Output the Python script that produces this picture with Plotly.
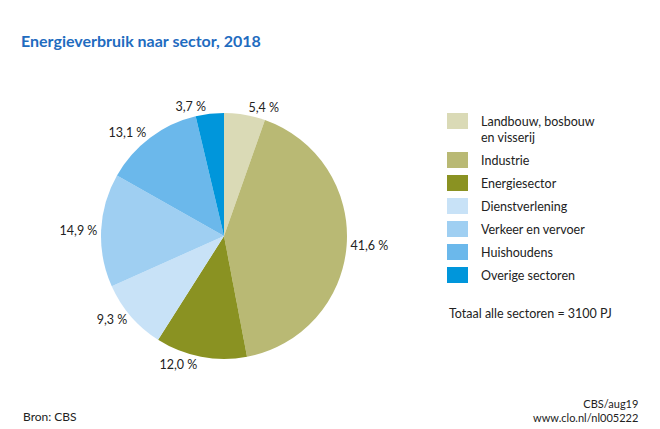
import plotly.graph_objects as go

sectors = ["Landbouw, bosbouw<br>en visserij", "Industrie", "Energiesector",
           "Dienstverlening", "Verkeer en vervoer", "Huishoudens", "Overige sectoren"]
shares = [5.4, 41.6, 12.0, 9.3, 14.9, 13.1, 3.7]
colors = ["#dadab6", "#b9b974", "#8a9222", "#c8e2f7", "#9fcff2", "#6bb8eb", "#0096db"]

title = "Energieverbruik naar sector, 2018"
total_note = "Totaal alle sectoren = 3100 PJ"
source = "Bron: CBS"
credit = "CBS/aug19<br>www.clo.nl/nl005222"

FONT = "Lato"
W, H = 660, 429

fig = go.Figure()
fig.add_trace(go.Pie(
    labels=sectors,
    values=shares,
    sort=False,
    direction="clockwise",
    rotation=0,
    marker=dict(colors=colors, line=dict(width=0)),
    textposition="outside",
    texttemplate="%{value:.1f} %",
    textfont=dict(family=FONT, size=12.5, color="#222222"),
    domain=dict(x=[(224 - 123) / W, (224 + 123) / W], y=[1 - (236 + 123) / H, 1 - (236 - 123) / H]),
    showlegend=False,
    hoverinfo="label+value",
))

# legend drawn by hand so the swatches match the original size
y0 = 113
for i, (name, col) in enumerate(zip(sectors, colors)):
    top = y0 + i * 23 + (16 if i > 0 else 0)
    fig.add_shape(type="rect", xref="paper", yref="paper",
                  x0=447 / W, x1=468 / W, y0=1 - top / H, y1=1 - (top + 16) / H,
                  fillcolor=col, line=dict(width=0))
    fig.add_annotation(x=479 / W, y=1 - (top - 1) / H, xref="paper", yref="paper",
                       text=name, showarrow=False, xanchor="left", yanchor="top", align="left",
                       font=dict(family=FONT, size=12.5, color="#222222"))

fig.add_annotation(x=447 / W, y=1 - 313 / H, xref="paper", yref="paper", text=total_note,
                   showarrow=False, xanchor="left", yanchor="middle",
                   font=dict(family=FONT, size=12.5, color="#222222"))
fig.add_annotation(x=21 / W, y=1 - 416 / H, xref="paper", yref="paper", text=source,
                   showarrow=False, xanchor="left", yanchor="middle",
                   font=dict(family=FONT, size=12, color="#222222"))
fig.add_annotation(x=640 / W, y=1 - 410 / H, xref="paper", yref="paper", text=credit,
                   showarrow=False, xanchor="right", yanchor="middle", align="right",
                   font=dict(family=FONT, size=11, color="#222222"))

fig.update_layout(
    width=W, height=H,
    margin=dict(l=0, r=0, t=0, b=0),
    paper_bgcolor="white",
    separators=", ",
    title=dict(text="<b>" + title + "</b>", x=21 / W, xanchor="left", y=1 - 41 / H, yanchor="middle",
               font=dict(family=FONT, size=16, color="#1f6cbf")),
)

# drop the default page margin so the figure sits at the window's corner
fig.write_html("out.html", config={"displayModeBar": False},
               post_script="document.body.style.margin='0';")
